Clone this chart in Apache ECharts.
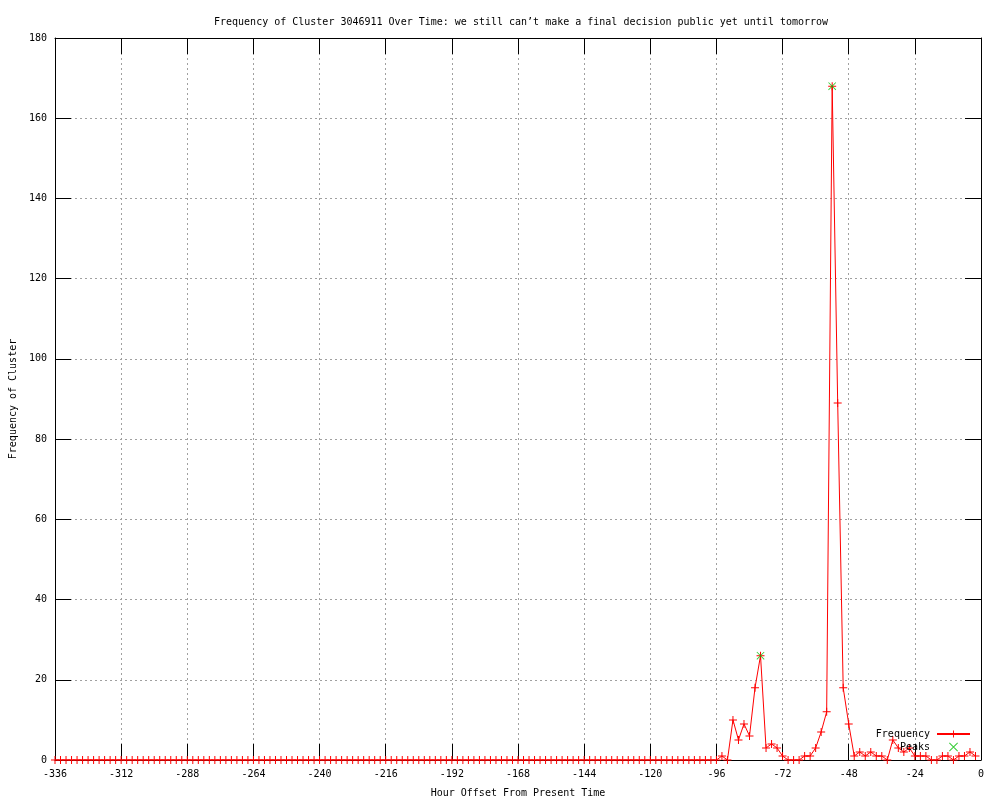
<!DOCTYPE html>
<html>
<head>
<meta charset="utf-8">
<script src="https://cdn.jsdelivr.net/npm/echarts@6/dist/echarts.min.js"></script>
<style>
  html, body { margin: 0; padding: 0; background: #fff; }
  #chart { width: 1000px; height: 800px; }
</style>
</head>
<body>
<div id="chart"></div>
<script>
  // hours from -336 to -2, every 2 hours
  const startHour = -336
  const stepHours = 2
  const frequency = [
    0, 0, 0, 0, 0, 0, 0, 0, 0, 0, 0, 0,
    0, 0, 0, 0, 0, 0, 0, 0, 0, 0, 0, 0,
    0, 0, 0, 0, 0, 0, 0, 0, 0, 0, 0, 0,
    0, 0, 0, 0, 0, 0, 0, 0, 0, 0, 0, 0,
    0, 0, 0, 0, 0, 0, 0, 0, 0, 0, 0, 0,
    0, 0, 0, 0, 0, 0, 0, 0, 0, 0, 0, 0,
    0, 0, 0, 0, 0, 0, 0, 0, 0, 0, 0, 0,
    0, 0, 0, 0, 0, 0, 0, 0, 0, 0, 0, 0,
    0, 0, 0, 0, 0, 0, 0, 0, 0, 0, 0, 0,
    0, 0, 0, 0, 0, 0, 0, 0, 0, 0, 0, 0,
    0, 1, 0, 10, 5, 9, 6, 18, 26, 3, 4, 3,
    1, 0, 0, 0, 1, 1, 3, 7, 12, 168, 89, 18,
    9, 1, 2, 1, 2, 1, 1, 0, 5, 3, 2, 3,
    1, 1, 1, 0, 0, 1, 1, 0, 1, 1, 2, 1
  ]
  const peakHours = [-80, -54]
  const peakValues = [26, 168]

  const xTicks = { min: -336, max: 0, interval: 24 }
  const yTicks = { min: 0, max: 180, interval: 20 }

  const font = 'DejaVu Sans Mono'
  const freqData = frequency.map((v, i) => [startHour + i * stepHours, v])
  const peakData = peakHours.map((h, i) => [h, peakValues[i]])

  // filled shapes so the marks keep the series colour
  const plusIcon = 'path://M0,3.5H8V4.5H0Z M3.5,0H4.5V8H3.5Z'
  const crossIcon = 'path://M0,0.6L0.6,0L8,7.4L7.4,8Z M7.4,0L8,0.6L0.6,8L0,7.4Z'

  const gridLine = { show: true, lineStyle: { color: '#a0a0a0', type: [2, 3], width: 1 } }
  const tick = { show: true, inside: true, length: 16, lineStyle: { color: '#000', width: 1 } }
  const line = { show: true, onZero: false, lineStyle: { color: '#000', width: 1 } }

  const chart = echarts.init(document.getElementById('chart'))
  chart.setOption({
    animation: false,
    backgroundColor: '#fff',
    textStyle: { fontFamily: font },
    title: {
      text: "Frequency of Cluster 3046911 Over Time: we still can\u2019t make a final decision public yet until tomorrow",
      left: 209,
      top: 12,
      textStyle: { fontFamily: font, fontSize: 10, fontWeight: 'normal', color: '#000' }
    },
    legend: {
      orient: 'vertical',
      right: 24,
      top: 724,
      align: 'right',
      itemWidth: 33,
      itemHeight: 9,
      itemGap: 3,
      textStyle: { fontFamily: font, fontSize: 10, color: '#000', padding: [0, 2, 0, 0] },
      data: ['Frequency', 'Peaks']
    },
    grid: { left: 55, right: 19, top: 38, bottom: 40, containLabel: false, outerBoundsMode: 'none' },
    xAxis: [
      {
        type: 'value',
        min: xTicks.min, max: xTicks.max, interval: xTicks.interval,
        name: 'Hour Offset From Present Time',
        nameLocation: 'middle',
        nameGap: 28,
        nameTextStyle: { fontFamily: font, fontSize: 10, color: '#000' },
        axisLine: line,
        axisTick: tick,
        axisLabel: { color: '#000', fontFamily: font, fontSize: 10, margin: 9 },
        splitLine: gridLine
      },
      {
        type: 'value', position: 'top',
        min: xTicks.min, max: xTicks.max, interval: xTicks.interval,
        axisLine: line, axisTick: tick,
        axisLabel: { show: false }, splitLine: { show: false }
      }
    ],
    yAxis: [
      {
        type: 'value',
        min: yTicks.min, max: yTicks.max, interval: yTicks.interval,
        name: 'Frequency of Cluster',
        nameLocation: 'middle',
        nameGap: 37,
        nameTextStyle: { fontFamily: font, fontSize: 10, color: '#000' },
        axisLine: line,
        axisTick: tick,
        axisLabel: { color: '#000', fontFamily: font, fontSize: 10, margin: 8 },
        splitLine: gridLine
      },
      {
        type: 'value', position: 'right',
        min: yTicks.min, max: yTicks.max, interval: yTicks.interval,
        axisLine: line, axisTick: tick,
        axisLabel: { show: false }, splitLine: { show: false }
      }
    ],
    series: [
      {
        name: 'Frequency',
        type: 'line',
        data: freqData,
        symbol: plusIcon,
        symbolSize: 8,
        showAllSymbol: true,
        lineStyle: { color: '#ff0000', width: 1 },
        itemStyle: { color: '#ff0000', borderWidth: 0 }
      },
      {
        name: 'Peaks',
        type: 'scatter',
        data: peakData,
        symbol: crossIcon,
        symbolSize: 8,
        z: 5,
        itemStyle: { color: '#00c000', borderWidth: 0 }
      }
    ]
  })
</script>
</body>
</html>
